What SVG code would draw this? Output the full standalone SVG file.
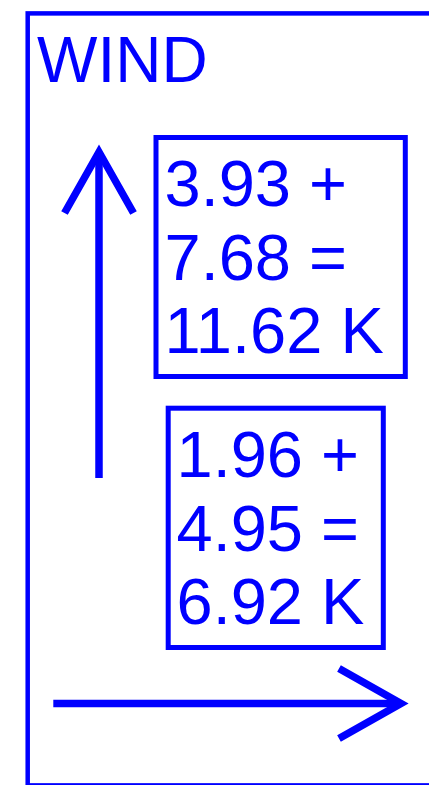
<svg xmlns="http://www.w3.org/2000/svg" width="429" height="785" viewBox="0 0 429 785">
<style>
.frame{fill:none;stroke:#0000ff;stroke-width:4.5}
.box{fill:none;stroke:#0000ff;stroke-width:5}
.arr{fill:none;stroke:#0000ff;stroke-width:7.5;stroke-linejoin:miter;stroke-miterlimit:10;stroke-linecap:butt}
text{font-family:"Liberation Sans",Arial,sans-serif;fill:#0000ff}
.t{font-size:65px}
.title{font-size:64px}
</style>
<g id="frame">
<rect class="frame" x="27.7" y="13.4" width="420" height="772"/>
<text class="title" x="37" y="81.5">WIND</text>
</g>
<g id="connectors">
<path class="arr" d="M99 478 V152"/>
<path class="arr" d="M64.5 213 L99 152 L133.5 213"/>
<path class="arr" d="M53.3 703.5 H401"/>
<path class="arr" d="M339 668.5 L401 703.5 L339 738.5"/>
</g>
<g id="node-upper">
<rect class="box" x="156" y="137.5" width="249.3" height="239"/>
<text class="t" x="164.5" y="205.5">3.93 +</text>
<text class="t" x="164.5" y="279.5">7.68 =</text>
<text class="t" x="164.5" y="353">11.62 K</text>
</g>
<g id="node-lower">
<rect class="box" x="168.2" y="408.2" width="215.1" height="239.3"/>
<text class="t" x="176.5" y="477">1.96 +</text>
<text class="t" x="176.5" y="550.5">4.95 =</text>
<text class="t" x="176.5" y="623.5">6.92 K</text>
</g>
</svg>
